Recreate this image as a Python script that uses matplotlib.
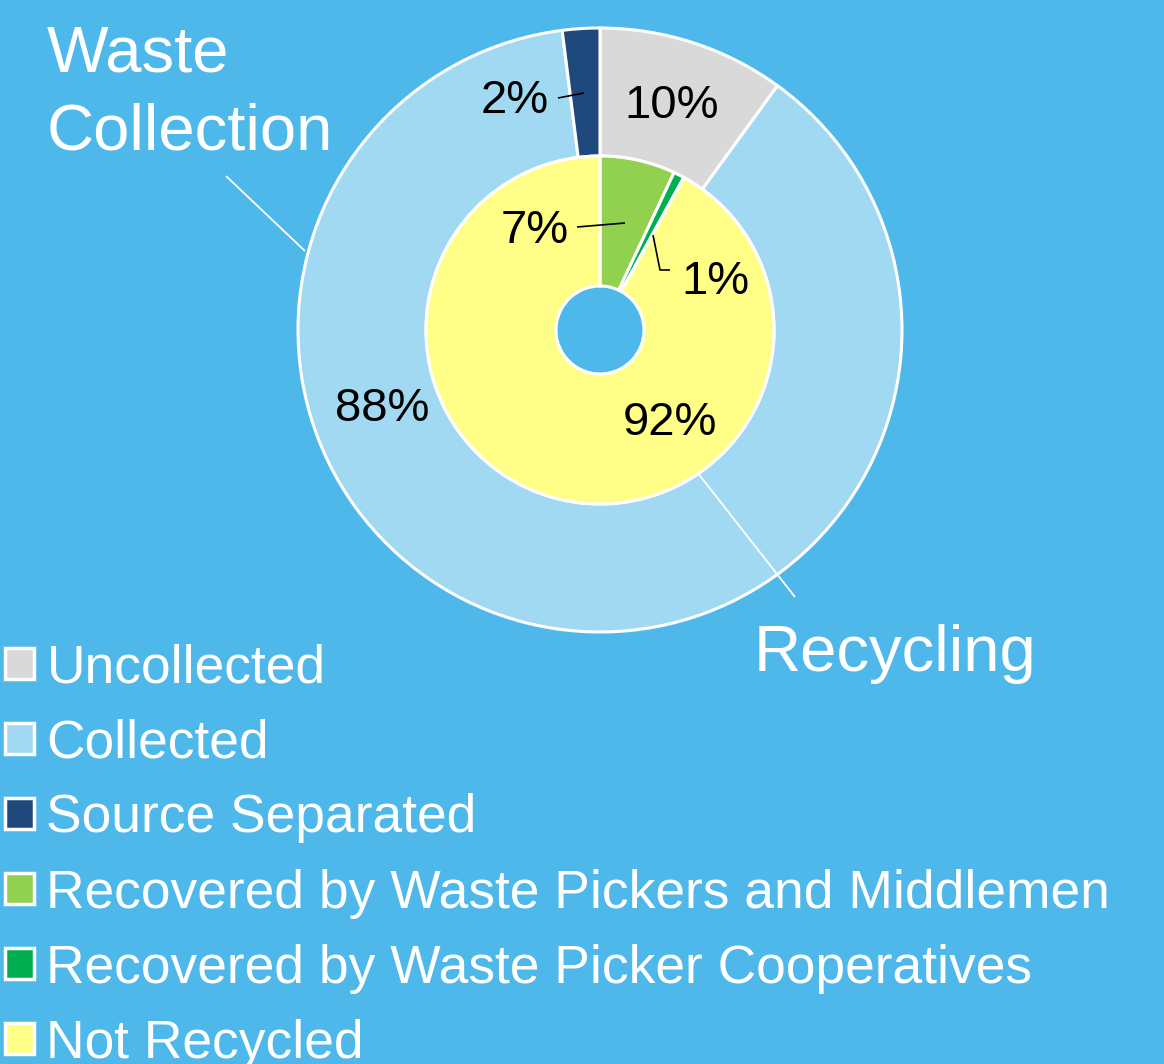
import matplotlib
matplotlib.use("Agg")
import matplotlib.pyplot as plt

# ---- data ----
outer_labels = ["Uncollected", "Collected", "Source Separated"]
outer_values = [10, 88, 2]
outer_colors = ["#D9D9D9", "#A1D9F3", "#1F497D"]

inner_labels = ["Recovered by Waste Pickers and Middlemen",
                "Recovered by Waste Picker Cooperatives",
                "Not Recycled"]
inner_values = [7, 1, 92]
inner_colors = ["#92D050", "#00B050", "#FFFF88"]

ring_titles = ["Waste", "Collection", "Recycling"]

BG = "#4EB8EB"
plt.rcParams['font.family'] = ['Liberation Sans', 'DejaVu Sans']

W, H = 1164, 1064
fig = plt.figure(figsize=(W / 100, H / 100), dpi=100, facecolor=BG)
ax = fig.add_axes([0, 0, 1, 1])
ax.set_facecolor(BG)

cx, cy = 600, 330  # pixel centre
R_out, R_mid, R_in = 302, 174, 44

wp = dict(edgecolor="white", linewidth=2.2)
w_out, _ = ax.pie(outer_values, colors=outer_colors, radius=R_out, startangle=90,
                  counterclock=False, wedgeprops=dict(width=R_out - R_mid, **wp))
w_in, _ = ax.pie(inner_values, colors=inner_colors, radius=R_mid, startangle=90,
                 counterclock=False, wedgeprops=dict(width=R_mid - R_in, **wp))

ax.set_xlim(-cx, W - cx)
ax.set_ylim(-(H - cy), cy)
ax.set_aspect("equal")
ax.axis("off")


def P(px, py):
    return px - cx, cy - py


# percentage labels
def lab(txt, px, py):
    x, y = P(px, py)
    ax.text(x, y, txt, fontsize=34, color="black", ha="center", va="center")


lab(f"{outer_values[0]}%", 672, 106)
lab(f"{outer_values[2]}%", 515, 101)
lab(f"{outer_values[1]}%", 382, 409)
lab(f"{inner_values[0]}%", 535, 231)
lab(f"{inner_values[1]}%", 715, 282)
lab(f"{inner_values[2]}%", 670, 423)


def line(pts, color="black", lw=1.2):
    xs, ys = zip(*[P(a, b) for a, b in pts])
    ax.plot(xs, ys, color=color, lw=lw, solid_capstyle="butt")


line([(558, 98), (584, 93)])
line([(577, 227), (625, 223)])
line([(653, 235), (660, 270), (670, 270)])

# ring titles
line([(226, 176), (305, 251)], color="white", lw=1.3)
line([(697, 472), (795, 597)], color="white", lw=1.3)
x, y = P(47, 54)
ax.text(x, y, ring_titles[0], fontsize=47, color="white", ha="left", va="center")
x, y = P(47, 133)
ax.text(x, y, ring_titles[1], fontsize=47, color="white", ha="left", va="center")
x, y = P(895, 654)
ax.text(x, y, ring_titles[2], fontsize=47, color="white", ha="center", va="center")

# legend
handles = list(w_out) + list(w_in)
labels = outer_labels + inner_labels
leg = ax.legend(handles, labels, loc="upper left", bbox_to_anchor=(0.0, 1 - 638 / H),
                bbox_transform=fig.transFigure, frameon=False, fontsize=38.4,
                labelcolor="white", handlelength=0.53, handleheight=0.53,
                handletextpad=0.24, labelspacing=0.47, borderaxespad=0,
                borderpad=0.1)
for p in leg.get_patches():
    p.set_edgecolor("white")
    p.set_linewidth(2.5)

fig.savefig("out.png", dpi=100, facecolor=BG)
